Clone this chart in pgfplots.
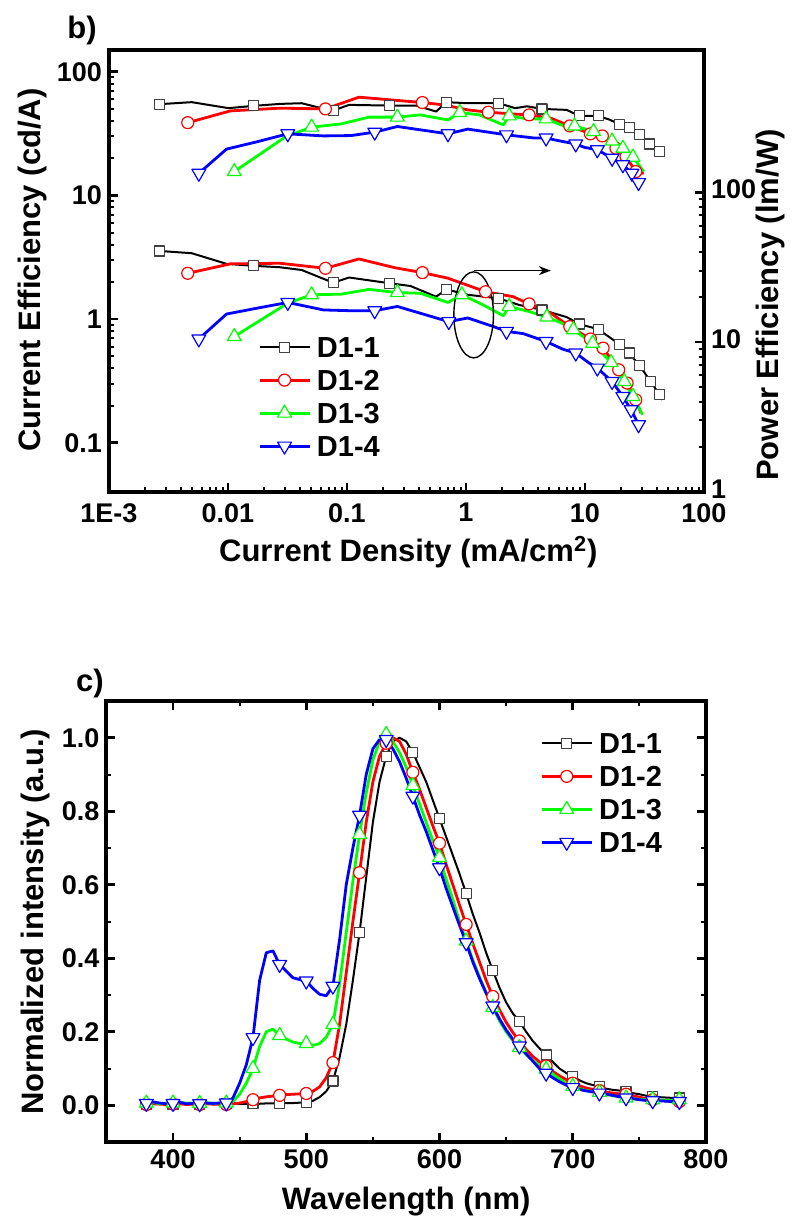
\documentclass[border=0pt]{standalone}
\usepackage{fontspec}
\setmainfont{Liberation Sans}
\usepackage{pgfplots}
\pgfplotsset{compat=1.18}
\usetikzlibrary{arrows.meta}

\newcommand{\ticksz}{\fontsize{13.5}{15}\selectfont\bfseries}
\newcommand{\labsz}{\fontsize{15.5}{17}\selectfont\bfseries}
\newcommand{\legsz}{\fontsize{14.5}{16}\selectfont\bfseries}

\pgfplotsset{
  common/.style={scale only axis, tick align=inside,
    axis line style={line width=2pt},
    major tick length=4.5pt, minor tick length=2.5pt,
    major tick style={line width=1.3pt, black},
    minor tick style={line width=1pt, black},
    tick label style={font=\ticksz}, label style={font=\labsz, inner sep=1pt},
    legend cell align=left,
    legend image code/.code={\draw[mark repeat=2,mark phase=2] plot coordinates {(0pt,0pt) (12.5pt,0pt) (25pt,0pt)};},
    legend style={draw=none, fill=none, inner sep=0pt, font=\legsz, row sep=6pt,
      nodes={inner ysep=0pt, inner xsep=3pt, text height=10.5pt, text depth=0pt}},
  },
  s1/.style={black, line width=1pt, line join=round, mark=square*, mark size=2.5pt,
    mark options={fill=white, draw=black!75, line width=0.6pt, solid}},
  s2/.style={red, line width=1.4pt, line join=round, mark=*, mark size=3pt,
    mark options={fill=white, draw=red, line width=0.6pt, solid}},
  s3/.style={green, line width=1.4pt, line join=round, mark=triangle*, mark size=4pt,
    mark options={fill=white, draw=green, line width=0.6pt, solid}},
  s4/.style={blue, line width=1.4pt, line join=round, mark=triangle*, mark size=4pt,
    mark options={fill=white, draw=blue, line width=0.6pt, solid, rotate=180}},
}

\begin{document}
\begin{tikzpicture}
\useasboundingbox (0,0) rectangle (398.5pt,611.5pt);

% ---- b) current efficiency (left) ----
\begin{axis}[common,
  at={(54.5pt,365.5pt)}, anchor=south west,
  width=297.5pt, height=221pt,
  xmode=log, ymode=log,
  xmin=0.001, xmax=100, ymin=0.04, ymax=150,
  xtick={0.001,0.01,0.1,1,10,100}, xticklabels={1E-3,0.01,0.1,1,10,100},
  ytick={0.1,1,10,100}, yticklabels={0.1,1,10,100},
  xtick pos=bottom, ytick pos=left,
  xticklabel style={yshift=-4.5pt, inner sep=1pt},
  xlabel={Current Density (mA/cm\textsuperscript{2})},
  ylabel={Current Efficiency (cd/A)},
  xlabel style={at={(axis description cs:0.503,-0.136)}, anchor=center},
  ylabel style={at={(axis description cs:-0.128,0.502)}, anchor=center},
  legend style={at={(axis description cs:0.25,0.3525)}, anchor=north west},
]
\addplot[s1, forget plot, mark indices={1,4,8,10,13,15,18,20,21,23,24,25,26,27}] coordinates {
 (0.00265,54.7) (0.00496,56.8) (0.0101,50.8) (0.0164,53.0) (0.0273,55.0) (0.0416,55.7)
 (0.0610,50.8) (0.0767,48.6) (0.104,54.0) (0.229,53.3) (0.383,53.3) (0.561,47.7)
 (0.684,56.8) (1.035,55.7) (1.88,55.7) (2.59,50.8) (3.26,52.6) (4.36,50.1)
 (7.01,49.2) (8.96,44.0) (12.9,44.0) (16.3,40.8) (19.4,37.7) (23.5,35.4)
 (28.8,31.3) (34.9,26.1) (42.3,22.6)};
\addplot[s2, forget plot, mark indices={1,4,6,9,11,13,14,15,16,17,18}] coordinates {
 (0.00459,38.8) (0.0105,48.3) (0.0273,50.8) (0.0659,50.1) (0.126,62.3) (0.430,56.4)
 (0.653,54.0) (1.035,49.2) (1.54,47.1) (2.40,45.7) (3.39,44.8) (5.16,42.2)
 (7.45,36.5) (11.1,31.5) (14.0,30.3) (18.2,24.1) (22.1,20.6) (26.7,15.6) (31.2,15.1)};
\addplot[s3, forget plot, mark indices={1,3,6,9,12,14,16,17,18,19,20}] coordinates {
 (0.0113,15.6) (0.0306,29.9) (0.0504,35.7) (0.0895,37.9) (0.153,43.0) (0.265,43.0)
 (0.413,44.8) (0.706,40.8) (0.888,46.8) (1.30,44.8) (2.06,37.2) (2.31,44.0)
 (3.26,41.6) (4.71,41.6) (7.01,35.7) (8.17,36.5) (11.8,32.9) (16.9,27.6)
 (20.8,24.1) (25.3,20.4) (31.2,15.6)};
\addplot[s4, forget plot, mark indices={1,4,7,9,11,13,15,17,18,19,20,21}] coordinates {
 (0.00569,15.1) (0.00972,23.7) (0.0179,27.3) (0.0318,31.5) (0.0634,30.3) (0.108,30.5)
 (0.171,32.5) (0.265,36.1) (0.706,31.5) (1.035,34.4) (2.19,30.9) (3.80,29.1)
 (4.71,29.1) (6.49,27.3) (8.36,26.1) (9.88,24.5) (12.7,23.4) (16.9,20.0)
 (20.8,17.7) (24.8,15.1) (28.2,12.7)};
\addlegendimage{s1}\addlegendentry{D1-1}
\addlegendimage{s2}\addlegendentry{D1-2}
\addlegendimage{s3}\addlegendentry{D1-3}
\addlegendimage{s4}\addlegendentry{D1-4}
\end{axis}

% ---- b) power efficiency (right) ----
\begin{axis}[common,
  at={(54.5pt,365.5pt)}, anchor=south west,
  width=297.5pt, height=221pt,
  xmode=log, ymode=log,
  xmin=0.001, xmax=100, ymin=1, ymax=890,
  axis x line=none, axis y line*=right,
  ytick={1,10,100}, yticklabels={1,10,100},
  yticklabel style={inner ysep=0pt, yshift=1.5pt},
  ylabel={Power Efficiency (lm/W)},
  ylabel style={at={(axis description cs:1.111,0.423)}, anchor=center, rotate=0},
]
\addplot[s1, mark indices={1,4,7,9,12,14,16,18,19,20,21,22,23,24}] coordinates {
 (0.00265,40.6) (0.00496,39.2) (0.00972,33.3) (0.0164,32.3) (0.0273,31.6) (0.0416,30.3)
 (0.0767,24.9) (0.104,27.0) (0.229,24.7) (0.341,23.7) (0.561,20.1) (0.684,22.5)
 (1.035,20.7) (1.88,19.6) (2.80,17.7) (4.36,16.4) (7.01,14.7) (8.96,13.2)
 (12.9,12.2) (19.4,9.70) (23.5,8.45) (28.8,6.95) (35.7,5.46) (42.3,4.45) (44.6,4.12)};
\addplot[s2, mark indices={1,4,7,9,11,13,14,15,16,17,18}] coordinates {
 (0.00459,28.8) (0.0105,33.3) (0.0273,33.6) (0.0659,31.1) (0.126,35.9) (0.251,31.4)
 (0.430,29.1) (0.706,26.7) (1.46,21.7) (2.49,20.1) (3.39,18.0) (5.16,15.6)
 (7.45,12.7) (11.1,10.5) (14.2,9.12) (19.2,6.54) (22.6,5.33) (26.7,4.12) (29.5,3.36)};
\addplot[s3, mark indices={1,3,6,9,12,14,16,17,18,19,20}] coordinates {
 (0.0113,10.9) (0.0318,18.2) (0.0504,20.7) (0.0895,20.9) (0.153,22.5) (0.265,21.4)
 (0.413,21.2) (0.706,18.4) (0.923,20.7) (1.34,18.0) (2.06,15.0) (2.31,17.3)
 (3.39,16.0) (4.78,14.7) (6.25,13.5) (7.98,12.1) (11.6,9.84) (16.6,7.31)
 (21.4,5.46) (25.3,4.34) (30.5,3.28)};
\addplot[s4, mark indices={1,4,7,9,12,14,16,18,19,20,21,22}] coordinates {
 (0.00569,10.5) (0.00972,15.4) (0.0179,16.9) (0.0318,18.4) (0.0634,16.4) (0.108,16.2)
 (0.171,16.2) (0.265,17.3) (0.717,13.7) (1.035,14.5) (1.70,12.7) (2.19,11.8)
 (3.02,11.4) (4.71,10.1) (6.49,8.98) (8.36,8.45) (10.7,7.31) (12.7,6.71)
 (16.9,5.46) (20.8,4.34) (24.4,3.54) (28.2,2.81)};
\draw[line width=0.7pt] (axis cs:1.16,15.2) ellipse [x radius=9.9pt, y radius=21.5pt];
\draw[line width=0.7pt, -{Stealth[length=6pt,width=4.5pt]}] (axis cs:1.16,30) -- (axis cs:5.16,30);
\end{axis}

% ---- c) spectra ----
\begin{axis}[common,
  at={(53.2pt,40.5pt)}, anchor=south west,
  width=299.8pt, height=220.5pt,
  xmin=350, xmax=800, ymin=-0.1, ymax=1.1,
  xtick={400,500,600,700,800}, xticklabels={400,500,600,700,800}, minor x tick num=1,
  ytick={0,0.2,0.4,0.6,0.8,1.0}, yticklabels={0.0,0.2,0.4,0.6,0.8,1.0}, minor y tick num=1,
  xticklabel style={yshift=-2.5pt, inner sep=1pt},
  xlabel={Wavelength (nm)},
  ylabel={Normalized intensity (a.u.)},
  xlabel style={at={(axis description cs:0.5,-0.134)}, anchor=center},
  ylabel style={at={(axis description cs:-0.119,0.499)}, anchor=center},
  legend style={at={(axis description cs:0.723,0.9286)}, anchor=north west},
]
\addplot[s1, mark repeat=4, mark phase=1] coordinates {
 (380,0.003) (385,0.005) (390,0.004) (395,0.003) (400,0.003) (405,0.004) (410,0.003) (415,0.003)
 (420,0.003) (425,0.004) (430,0.003) (435,0.004) (440,0.004) (445,0.004) (450,0.004) (455,0.004)
 (460,0.004) (465,0.004) (470,0.005) (475,0.005) (480,0.005) (485,0.006) (490,0.006) (495,0.007)
 (500,0.008) (505,0.012) (510,0.022) (515,0.038) (520,0.066) (525,0.13) (530,0.22) (535,0.34)
 (540,0.47) (545,0.62) (550,0.77) (555,0.88) (560,0.95) (565,0.99) (570,1.0) (575,0.99)
 (580,0.96) (585,0.92) (590,0.88) (595,0.83) (600,0.78) (605,0.73) (610,0.68) (615,0.63)
 (620,0.576) (625,0.52) (630,0.47) (635,0.415) (640,0.367) (645,0.32) (650,0.28) (655,0.25)
 (660,0.228) (665,0.2) (670,0.175) (675,0.155) (680,0.137) (685,0.118) (690,0.1) (695,0.088)
 (700,0.078) (705,0.068) (710,0.06) (715,0.055) (720,0.051) (725,0.045) (730,0.042) (735,0.04)
 (740,0.037) (745,0.033) (750,0.03) (755,0.026) (760,0.023) (765,0.022) (770,0.021) (775,0.02)
 (780,0.02)};
\addlegendentry{D1-1}
\addplot[s2, mark repeat=4, mark phase=1] coordinates {
 (380,0.002) (385,0.004) (390,0.003) (395,0.002) (400,0.003) (405,0.004) (410,0.002) (415,0.003)
 (420,0.002) (425,0.004) (430,0.003) (435,0.003) (440,0.002) (445,0.004) (450,0.006) (455,0.01)
 (460,0.015) (465,0.02) (470,0.023) (475,0.025) (480,0.027) (485,0.029) (490,0.03) (495,0.031)
 (500,0.032) (505,0.038) (510,0.05) (515,0.075) (520,0.116) (525,0.22) (530,0.36) (535,0.5)
 (540,0.633) (545,0.77) (550,0.88) (555,0.95) (560,0.985) (565,1.0) (570,0.99) (575,0.955)
 (580,0.906) (585,0.86) (590,0.81) (595,0.76) (600,0.713) (605,0.655) (610,0.6) (615,0.545)
 (620,0.492) (625,0.44) (630,0.39) (635,0.34) (640,0.296) (645,0.26) (650,0.226) (655,0.198)
 (660,0.175) (665,0.152) (670,0.133) (675,0.118) (680,0.107) (685,0.092) (690,0.08) (695,0.07)
 (700,0.06) (705,0.053) (710,0.047) (715,0.043) (720,0.04) (725,0.036) (730,0.033) (735,0.031)
 (740,0.03) (745,0.026) (750,0.022) (755,0.018) (760,0.015) (765,0.014) (770,0.012) (775,0.01)
 (780,0.01)};
\addlegendentry{D1-2}
\addplot[s3, mark repeat=4, mark phase=1] coordinates {
 (380,0.006) (385,0.008) (390,0.004) (395,0.006) (400,0.006) (405,0.009) (410,0.005) (415,0.006)
 (420,0.005) (425,0.007) (430,0.005) (435,0.006) (440,0.006) (445,0.01) (450,0.03) (455,0.06)
 (460,0.1) (465,0.16) (470,0.2) (475,0.207) (480,0.19) (485,0.18) (490,0.172) (495,0.168)
 (500,0.168) (505,0.163) (510,0.168) (515,0.185) (520,0.22) (525,0.33) (530,0.47) (535,0.61)
 (540,0.737) (545,0.85) (550,0.94) (555,0.99) (560,1.009) (565,0.99) (570,0.96) (575,0.92)
 (580,0.87) (585,0.82) (590,0.77) (595,0.72) (600,0.674) (605,0.615) (610,0.56) (615,0.5)
 (620,0.447) (625,0.395) (630,0.35) (635,0.305) (640,0.266) (645,0.23) (650,0.2) (655,0.176)
 (660,0.157) (665,0.138) (670,0.122) (675,0.109) (680,0.098) (685,0.085) (690,0.072) (695,0.06)
 (700,0.051) (705,0.045) (710,0.04) (715,0.037) (720,0.035) (725,0.03) (730,0.026) (735,0.023)
 (740,0.02) (745,0.018) (750,0.016) (755,0.015) (760,0.015) (765,0.014) (770,0.013) (775,0.014)
 (780,0.015)};
\addlegendentry{D1-3}
\addplot[s4, mark repeat=4, mark phase=1] coordinates {
 (380,0.005) (385,0.009) (390,0.006) (395,0.004) (400,0.005) (405,0.008) (410,0.004) (415,0.005)
 (420,0.004) (425,0.006) (430,0.005) (435,0.006) (440,0.006) (445,0.02) (450,0.06) (455,0.11)
 (460,0.184) (465,0.34) (470,0.415) (475,0.42) (480,0.383) (485,0.365) (490,0.347) (495,0.342)
 (500,0.338) (505,0.318) (510,0.302) (515,0.298) (520,0.324) (525,0.45) (530,0.6) (535,0.7)
 (540,0.789) (545,0.9) (550,0.97) (555,0.995) (560,0.995) (565,0.97) (570,0.935) (575,0.89)
 (580,0.841) (585,0.79) (590,0.745) (595,0.695) (600,0.646) (605,0.59) (610,0.54) (615,0.49)
 (620,0.442) (625,0.39) (630,0.345) (635,0.305) (640,0.27) (645,0.235) (650,0.205) (655,0.18)
 (660,0.161) (665,0.14) (670,0.12) (675,0.1) (680,0.087) (685,0.075) (690,0.064) (695,0.055)
 (700,0.048) (705,0.043) (710,0.039) (715,0.036) (720,0.033) (725,0.03) (730,0.027) (735,0.023)
 (740,0.02) (745,0.018) (750,0.015) (755,0.013) (760,0.012) (765,0.012) (770,0.011) (775,0.01)
 (780,0.01)};
\addlegendentry{D1-4}
\end{axis}

\node[font=\labsz] at (41pt,596.5pt) {b)};
\node[font=\labsz] at (45pt,270pt) {c)};
\end{tikzpicture}
\end{document}
